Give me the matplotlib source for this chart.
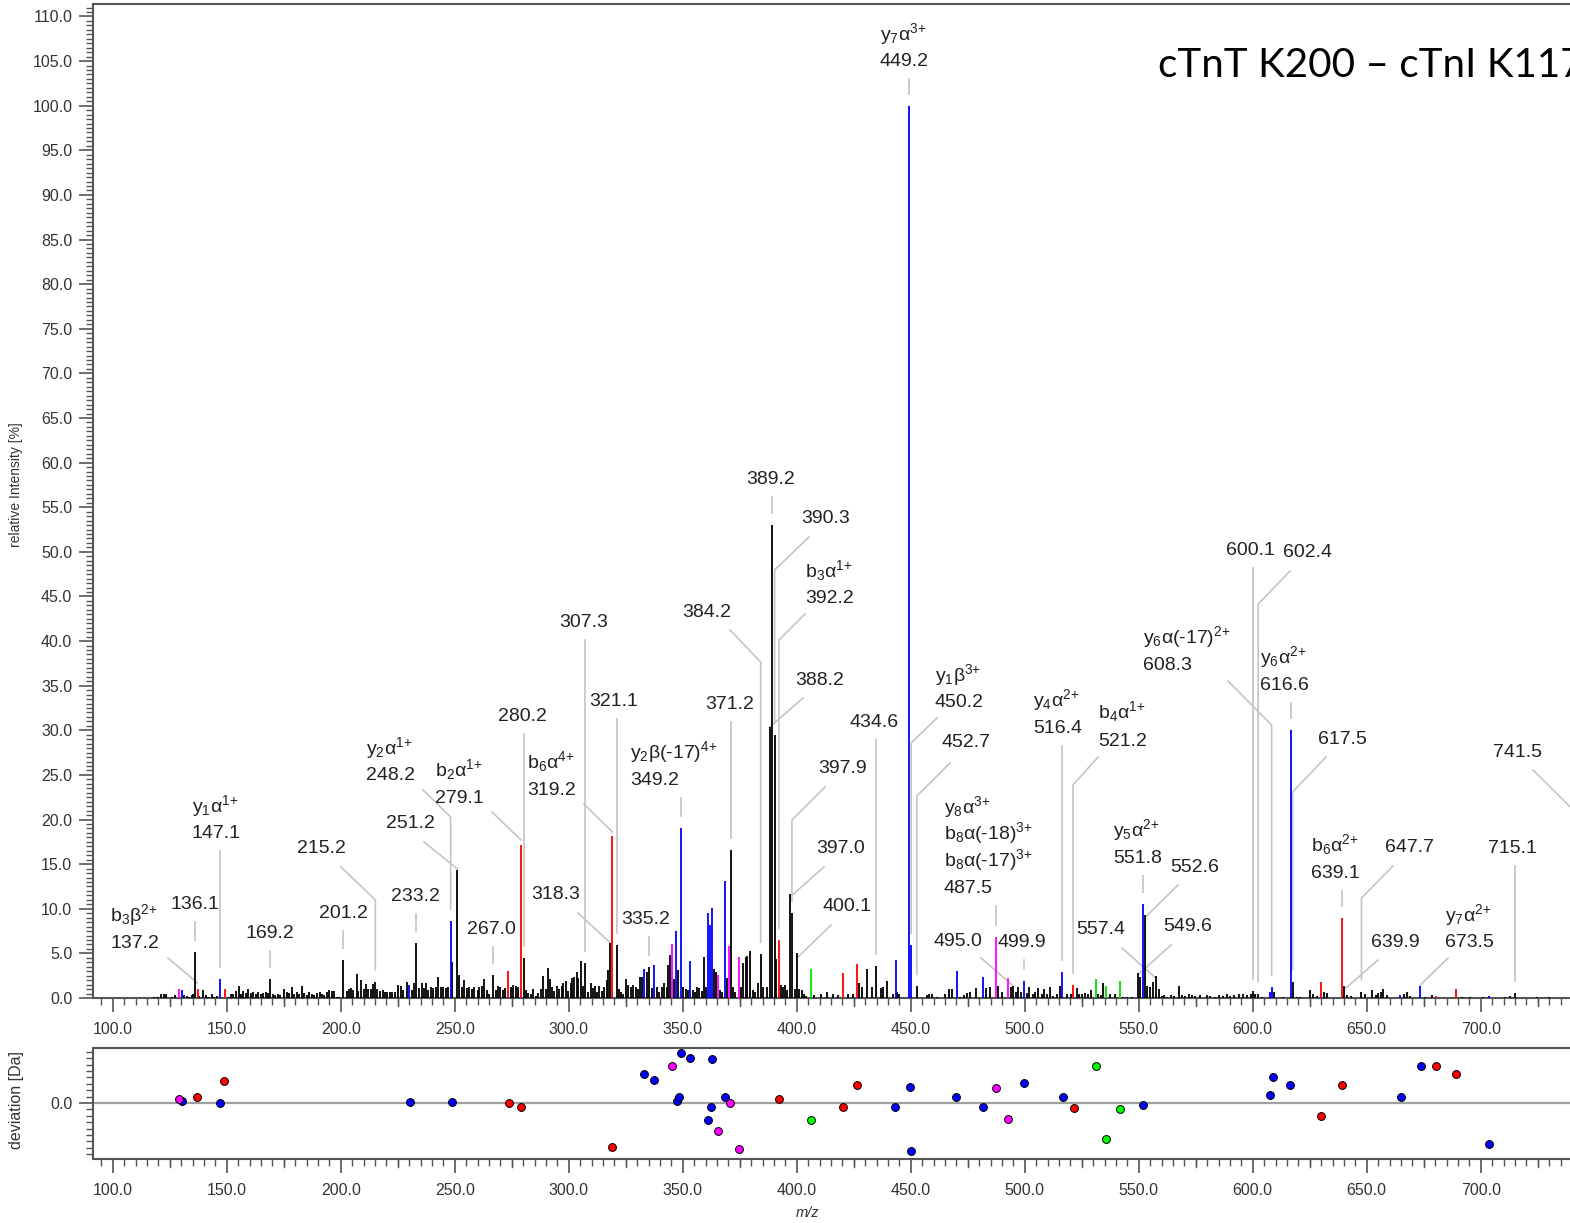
import matplotlib
matplotlib.use("Agg")
import matplotlib.pyplot as plt
from matplotlib.ticker import MultipleLocator, FixedLocator, FormatStrFormatter, FuncFormatter
from matplotlib.transforms import blended_transform_factory

plt.rcParams['font.family'] = ['Liberation Sans', 'DejaVu Sans']
plt.rcParams['mathtext.fontset'] = 'custom'
plt.rcParams['mathtext.rm'] = 'Liberation Sans'
plt.rcParams['mathtext.it'] = 'Liberation Sans:italic'
plt.rcParams['mathtext.default'] = 'regular'

# ---------------- data ----------------
title = "cTnT K200 \u2013 cTnI K117"

# unannotated background peaks (black)
noise_mz = [118.3, 119.3, 120.0, 121.0, 122.3, 123.2, 125.9, 127.2, 131.4, 132.5, 133.6, 134.7, 135.4,
            138.0, 139.5, 140.7, 142.0, 143.4, 144.5, 145.9, 150.7, 151.8, 152.9, 154.0, 155.3, 156.3,
            157.3, 158.5, 159.5, 160.7, 161.7, 162.7, 163.9, 164.9, 166.1, 167.1, 168.1, 170.2, 171.2,
            172.4, 173.4, 175.3, 176.3, 177.4, 178.5, 179.5, 180.7, 181.9, 183.1, 184.1, 185.1, 186.3,
            187.3, 188.5, 189.5, 190.7, 191.7, 192.8, 193.9, 195.0, 196.1, 197.2, 198.3, 199.4, 202.6,
            203.7, 204.4, 205.6, 207.0, 207.8, 208.8, 210.0, 211.0, 212.1, 213.2, 214.3, 216.1, 217.3,
            218.4, 219.5, 220.5, 221.6, 222.7, 223.7, 225.3, 226.3, 227.5, 229.0, 231.2, 232.2, 234.4,
            235.5, 236.6, 237.4, 238.5, 239.5, 240.5, 241.7, 242.8, 244.0, 245.0, 246.1, 247.2, 248.6,
            251.9, 253.1, 254.1, 255.3, 256.4, 257.5, 258.6, 260.0, 260.8, 261.9, 262.9, 264.0, 265.2,
            268.0, 269.2, 269.9, 271.1, 272.1, 274.6, 275.7, 276.8, 277.9,
            281.3, 282.3, 283.3, 284.5, 285.7, 286.7, 287.7, 288.9, 289.9, 290.9, 291.8, 292.8, 293.7,
            294.7, 295.7, 296.9, 297.6, 298.8, 299.8, 300.9, 301.6, 302.5, 303.5, 304.2, 305.2, 306.1,
            308.6, 309.6, 310.5, 311.5, 312.6, 313.4, 314.6, 315.6, 316.6, 317.4, 322.1, 322.9, 324.0,
            325.1, 326.2, 327.2, 328.3, 329.4, 330.2, 331.3, 332.3, 334.2, 336.4, 338.6, 339.6, 340.8,
            341.8, 342.9, 343.7, 344.6, 346.2, 348.1, 350.3, 351.3, 352.5, 354.4, 355.4, 356.1, 357.1,
            358.3, 359.5, 360.2, 363.7, 364.6, 366.4, 367.4, 369.3, 371.9, 373.0, 375.6, 376.6, 377.6,
            378.3, 379.5, 380.7, 381.7, 382.9, 385.4, 386.8, 391.0, 393.0, 393.8, 394.9, 395.9, 399.3,
            401.2, 402.2, 403.2, 404.1, 407.6, 410.5, 413.4, 416.0, 418.2, 422.6, 424.5, 427.5, 428.5,
            430.7, 432.9, 436.8, 438.0, 439.5, 442.1, 444.1, 444.8, 457.0, 458.0, 459.2, 461.7, 465.0,
            466.8, 468.0, 471.6, 473.4, 474.8, 476.0, 478.6, 483.0, 484.8, 488.4, 490.2, 494.0, 496.0,
            497.1, 498.2, 500.9, 502.0, 503.5, 504.5, 505.7, 507.4, 508.6, 509.6, 511.1, 512.6, 514.0,
            515.5, 518.4, 520.3, 522.8, 523.8, 525.0, 526.5, 527.9, 529.1, 532.3, 533.3, 534.2, 537.4,
            539.6, 543.0, 544.7, 546.9, 550.6, 553.5, 555.0, 556.1, 558.8, 560.1, 561.1, 562.6, 564.0,
            565.5, 567.8, 568.9, 570.3, 572.2, 573.2, 574.7, 576.9, 579.8, 581.3, 583.5, 585.4, 586.8,
            588.6, 590.0, 591.8, 594.1, 595.9, 597.4, 599.1, 601.0, 603.9, 609.3, 613.4, 619.3, 620.8,
            625.1, 626.6, 628.1, 631.3, 632.7, 641.5, 643.0, 649.3, 652.2, 654.1, 655.1, 656.3, 657.3,
            658.8, 666.4, 667.5, 669.0, 675.6, 678.5, 691.7, 695.3, 701.2, 710.7, 712.9, 724.5, 730.0]
noise_int = [0.1, 0.15, 0.15, 0.4, 0.45, 0.45, 0.1, 0.3, 0.35, 0.2, 0.15, 0.35, 0.4,
             0.2, 0.9, 0.35, 0.15, 0.45, 0.15, 0.2, 0.15, 0.4, 0.5, 0.8, 1.35, 0.4,
             0.8, 0.6, 1.0, 0.6, 0.7, 0.5, 0.7, 0.45, 0.6, 0.7, 0.6, 0.45, 0.35,
             0.5, 0.35, 1.0, 0.7, 0.6, 1.2, 0.5, 0.7, 0.45, 1.35, 0.6, 0.35, 0.7,
             0.45, 0.35, 0.6, 0.7, 0.5, 0.35, 0.7, 0.9, 0.8, 0.8, 0.15, 0.1, 0.8,
             1.0, 1.1, 0.9, 2.7, 0.8, 2.0, 1.0, 1.6, 1.0, 1.0, 1.55, 1.0, 0.8,
             0.9, 0.7, 0.7, 0.7, 0.7, 0.7, 1.45, 1.35, 0.9, 1.8, 0.9, 1.7, 1.1,
             1.7, 1.1, 1.7, 0.9, 1.2, 1.1, 1.2, 2.4, 1.2, 1.2, 1.1, 1.2, 4.0,
             2.6, 1.2, 2.0, 1.1, 1.2, 1.0, 1.2, 0.9, 1.2, 1.35, 2.1, 0.9, 0.5,
             0.9, 1.35, 1.2, 0.9, 1.1, 1.2, 1.45, 1.35, 1.2,
             0.9, 0.6, 0.45, 1.0, 0.2, 0.6, 1.0, 2.5, 1.0, 3.4, 2.1, 1.2, 0.8,
             1.35, 1.0, 1.35, 1.65, 1.95, 0.8, 1.65, 2.2, 2.4, 2.95, 2.2, 4.1, 1.35,
             0.7, 1.65, 1.1, 1.35, 0.7, 1.35, 0.8, 1.25, 2.0, 3.15, 1.0, 0.7, 0.45,
             2.1, 1.45, 1.2, 1.45, 1.2, 1.0, 2.3, 2.3, 2.95, 1.1, 1.2, 0.7, 1.2,
             1.7, 1.2, 3.7, 4.8, 2.1, 3.15, 1.2, 1.0, 0.9, 0.9, 0.7, 1.2, 1.1,
             0.8, 4.55, 1.25, 3.2, 2.95, 0.9, 0.7, 2.2, 1.2, 0.7, 1.2, 3.95, 4.6,
             4.7, 5.3, 0.9, 0.7, 1.7, 1.2, 1.2, 4.4, 1.45, 1.2, 1.45, 0.9, 1.0,
             1.0, 0.9, 0.45, 0.2, 0.35, 0.45, 0.7, 0.45, 0.35, 0.45, 0.45, 1.65, 1.2,
             3.3, 1.2, 1.1, 1.2, 1.9, 0.45, 0.7, 0.5, 0.35, 0.45, 0.5, 0.1, 0.45,
             1.0, 1.0, 0.15, 0.35, 0.6, 0.7, 1.1, 1.1, 1.2, 1.35, 0.7, 1.2, 0.7,
             1.2, 0.7, 0.6, 1.2, 0.45, 0.7, 1.1, 0.45, 1.0, 0.45, 1.2, 0.2, 0.45,
             1.35, 0.5, 0.45, 1.1, 0.45, 0.45, 0.6, 0.45, 0.9, 0.5, 0.35, 1.65, 0.45,
             0.45, 0.15, 0.15, 0.15, 2.3, 1.35, 1.2, 1.8, 1.0, 0.2, 0.35, 0.15, 0.35,
             0.2, 1.35, 0.35, 0.2, 0.45, 0.35, 0.2, 0.35, 0.35, 0.2, 0.15, 0.35, 0.2,
             0.45, 0.2, 0.35, 0.45, 0.45, 0.35, 0.5, 0.5, 0.15, 0.7, 0.15, 0.15, 0.1,
             0.9, 0.5, 0.2, 0.7, 0.6, 0.35, 0.2, 0.45, 0.9, 0.35, 0.6, 0.7, 1.0,
             0.35, 0.5, 0.7, 0.2, 0.15, 0.35, 0.15, 0.15, 0.15, 0.15, 0.2, 0.15, 0.15]

# annotated peaks without ion assignment (black)
black_mz = [136.1, 169.2, 201.2, 215.2, 233.2, 251.2, 267.0, 280.2, 307.3, 318.3, 321.1, 335.2, 371.2,
            384.2, 388.2, 389.2, 390.3, 397.0, 397.9, 400.1, 434.6, 452.7, 495.0, 549.6, 552.6, 557.4,
            600.1, 602.4, 617.5, 639.9, 647.7, 715.1, 741.5]
black_int = [5.2, 2.1, 4.3, 1.8, 6.2, 14.4, 2.6, 4.5, 3.9, 6.2, 5.9, 3.5, 16.6,
             4.9, 30.4, 53.0, 29.5, 11.7, 9.5, 5.0, 3.6, 1.3, 1.4, 2.8, 9.3, 2.5,
             0.8, 0.5, 1.8, 1.35, 0.7, 0.55, 1.0]

blue_mz = [130.3, 147.1, 230.1, 248.2, 333.2, 337.4, 347.1, 349.2, 353.2, 361.1, 362.0, 362.7, 368.6,
           443.5, 449.2, 450.2, 470.2, 481.8, 499.9, 516.4, 551.8, 607.6, 608.3, 616.6, 664.8, 673.5, 703.8]
blue_int = [0.9, 2.1, 1.45, 8.6, 3.2, 3.7, 7.55, 19.1, 4.15, 9.55, 8.2, 10.05, 13.1,
            4.3, 100.0, 5.9, 3.0, 2.4, 1.95, 2.9, 10.5, 0.7, 1.2, 30.0, 0.35, 1.3, 0.2]

red_mz = [137.2, 149.4, 273.4, 279.1, 319.2, 392.2, 420.2, 426.3, 521.2, 629.8, 639.1, 680.4, 689.2]
red_int = [1.0, 1.0, 3.0, 17.2, 18.2, 6.5, 2.85, 3.8, 1.45, 1.8, 9.0, 0.2, 1.0]

magenta_mz = [128.9, 345.3, 365.3, 370.2, 374.5, 487.5, 492.8]
magenta_int = [1.0, 6.1, 2.6, 5.8, 4.55, 6.8, 2.2]

green_mz = [406.3, 531.2, 535.7, 541.6]
green_int = [3.3, 2.1, 1.35, 1.95]

# ion names of annotated peaks
ion_mz = [137.2, 147.1, 248.2, 279.1, 319.2, 349.2, 392.2, 449.2, 450.2, 487.5, 516.4, 521.2,
          551.8, 608.3, 616.6, 639.1, 673.5]
ion_names = [["b$_3$\u03b2$^{2{+}}$"], ["y$_1$\u03b1$^{1{+}}$"], ["y$_2$\u03b1$^{1{+}}$"], ["b$_2$\u03b1$^{1{+}}$"],
             ["b$_6$\u03b1$^{4{+}}$"], ["y$_2$\u03b2(-17)$^{4{+}}$"], ["b$_3$\u03b1$^{1{+}}$"], ["y$_7$\u03b1$^{3{+}}$"],
             ["y$_1$\u03b2$^{3{+}}$"],
             ["y$_8$\u03b1$^{3{+}}$", "b$_8$\u03b1(-18)$^{3{+}}$", "b$_8$\u03b1(-17)$^{3{+}}$"],
             ["y$_4$\u03b1$^{2{+}}$"], ["b$_4$\u03b1$^{1{+}}$"], ["y$_5$\u03b1$^{2{+}}$"],
             ["y$_6$\u03b1(-17)$^{2{+}}$"], ["y$_6$\u03b1$^{2{+}}$"], ["b$_6$\u03b1$^{2{+}}$"], ["y$_7$\u03b1$^{2{+}}$"]]

# mass deviation of matched fragments
dev_blue_mz = [130.2, 147.2, 230.3, 248.6, 333.2, 337.5, 347.3, 348.4, 349.1, 353.3, 361.2, 362.5, 362.9,
               368.6, 443.3, 449.5, 450.1, 470.0, 481.9, 499.6, 516.6, 552.0, 607.5, 608.8, 616.5,
               664.9, 673.9, 703.8]
dev_blue = [0.006, -0.001, 0.002, 0.002, 0.090, 0.072, 0.006, 0.020, 0.155, 0.142, -0.053, -0.011, 0.137,
            0.020, -0.011, 0.051, -0.149, 0.020, -0.011, 0.064, 0.020, -0.005, 0.025, 0.081, 0.055,
            0.020, 0.116, -0.128]
dev_red_mz = [136.9, 149.0, 273.7, 279.0, 319.1, 392.3, 420.3, 426.5, 521.5, 630.0, 639.0, 680.3, 689.2]
dev_red = [0.020, 0.069, 0.000, -0.011, -0.137, 0.0115, -0.011, 0.055, -0.0145, -0.041, 0.055, 0.116, 0.090]
dev_mag_mz = [128.9, 345.5, 365.4, 370.6, 374.6, 487.5, 492.8]
dev_mag = [0.0115, 0.116, -0.0875, -0.001, -0.145, 0.046, -0.049]
dev_green_mz = [406.4, 531.2, 535.6, 541.8]
dev_green = [-0.053, 0.116, -0.1135, -0.019]

# ---------------- layout ----------------
W, H = 1570, 1223
BLUE, RED, MAG, GRN = '#0000ff', '#ff0000', '#ff00ff', '#00e000'
TXT = '#222222'
CONN = '#c4c4c4'

fig = plt.figure(figsize=(W / 100, H / 100), dpi=100)
XL = (91.4, 761.0)
axL, axR = 93.1, 1619.8

def frac(px0, py_top, px1, py_bot):
    return [px0 / W, 1 - py_bot / H, (px1 - px0) / W, (py_bot - py_top) / H]

ax = fig.add_axes(frac(axL, 4, axR, 998))
ax.set_xlim(*XL)
ax.set_ylim(0, 111.4)
ax2 = fig.add_axes(frac(axL, 1048, axR, 1159))
ax2.set_xlim(*XL)
ax2.set_ylim(-0.175, 0.172)

# pixel helpers for annotation placement
def dx(px):
    return XL[0] + (px - axL) * (XL[1] - XL[0]) / (axR - axL)

def dy(py):
    return (998 - py) * 111.4 / 994.0

# ---------------- spectrum ----------------
lw = 1.3
ax.vlines(noise_mz, 0, noise_int, colors='black', lw=lw, zorder=3)
ax.vlines(black_mz, 0, black_int, colors='black', lw=lw, zorder=3)
ax.vlines(magenta_mz, 0, magenta_int, colors=MAG, lw=lw, zorder=4)
ax.vlines(green_mz, 0, green_int, colors=GRN, lw=lw, zorder=4)
ax.vlines(red_mz, 0, red_int, colors=RED, lw=lw, zorder=4)
ax.vlines(blue_mz, 0, blue_int, colors=BLUE, lw=lw, zorder=4)

peak_int = {}
for m, i in list(zip(black_mz, black_int)) + list(zip(blue_mz, blue_int)) + \
        list(zip(red_mz, red_int)) + list(zip(magenta_mz, magenta_int)) + list(zip(green_mz, green_int)):
    peak_int[m] = i
names = dict(zip(ion_mz, ion_names))

# label layout: mz -> (x_px, [line centre y px], connector)
# connector: None = straight down; (sx, sy, knee_py) = slanted then down
layout = {
    136.1: (195, [903], None), 137.2: (110, [915, 942], (168, 958, 983)),
    147.1: (192, [806, 832], None), 169.2: (270, [932], None), 201.2: (343, [912], None),
    215.2: (321, [847], (341, 867, 900)), 233.2: (415, [895], None),
    248.2: (366, [748, 774], (423, 790, 817)), 251.2: (410, [822], (424, 842, 869)),
    267.0: (491, [928], None), 279.1: (435, [770, 797], (492, 812, 840)),
    280.2: (522, [715], None), 307.3: (584, [621], None),
    319.2: (527, [762, 789], (584, 804, 832)), 318.3: (556, [893], (578, 913, 943)),
    321.1: (614, [700], None), 335.2: (646, [918], None), 349.2: (630, [752, 779], None),
    371.2: (730, [703], None), 384.2: (707, [611], (730, 630, 662)), 389.2: (771, [478], None),
    390.3: (826, [517], (809, 537, 570)), 392.2: (805, [571, 597], (805, 614, 640)),
    388.2: (820, [679], (803, 698, 727)), 397.9: (843, [767], (825, 787, 820)),
    397.0: (841, [847], (824, 867, 897)), 400.1: (847, [905], (831, 925, 958)),
    434.6: (874, [721], None), 449.2: (880, [34, 60], None),
    450.2: (935, [675, 701], (937, 718, 743)), 452.7: (966, [741], (950, 763, 796)),
    487.5: (944, [807, 833, 860, 887], None), 495.0: (958, [940], (981, 958, 986)),
    499.9: (1022, [941], None), 516.4: (1033, [700, 727], None),
    521.2: (1098, [712, 740], (1098, 757, 785)), 551.8: (1113, [830, 857], None),
    552.6: (1195, [866], (1178, 885, 918)), 557.4: (1101, [928], (1122, 948, 978)),
    549.6: (1188, [925], (1171, 945, 975)), 600.1: (1250, [549], None),
    602.4: (1308, [551], (1290, 571, 604)), 608.3: (1143, [637, 664], (1228, 681, 725)),
    616.6: (1260, [657, 684], None), 617.5: (1342, [738], (1326, 757, 792)),
    639.1: (1311, [845, 872], None), 647.7: (1410, [846], (1393, 866, 898)),
    639.9: (1395, [941], (1378, 960, 990)), 673.5: (1445, [915, 941], (1448, 958, 985)),
    715.1: (1512, [847], None), 741.5: (1518, [751], (1533, 770, 812)),
}

gap = dy(998 - 12)
for mz, (xp, ys, conn) in layout.items():
    top = peak_int[mz]
    lines = names.get(mz, []) + ["%.1f" % mz]
    multi = len(lines) > 1
    for txt, yc in zip(lines, ys):
        ax.text(dx(xp), dy(yc + 6), txt, ha='left' if multi else 'center', va='baseline',
                fontsize=14, color=TXT, zorder=6)
    end = top + gap
    if conn is None:
        ax.plot([mz, mz], [dy(ys[-1] + 19), end], color=CONN, lw=1.2, zorder=1)
    else:
        sx, sy, ky = conn
        kI = dy(ky)
        if kI > end:
            ax.plot([dx(sx), mz, mz], [dy(sy), kI, end], color=CONN, lw=1.2, zorder=1)
        else:
            ax.plot([dx(sx), mz], [dy(sy), kI], color=CONN, lw=1.2, zorder=1)

# ---------------- deviation panel ----------------
ax2.axhline(0, color='#a0a0a0', lw=1.6, zorder=1)
for xs, ys_, c in [(dev_blue_mz, dev_blue, BLUE), (dev_red_mz, dev_red, RED),
                   (dev_mag_mz, dev_mag, MAG), (dev_green_mz, dev_green, '#00ff00')]:
    ax2.scatter(xs, ys_, s=32, c=c, edgecolors='black', linewidths=0.7, zorder=3)

# ---------------- axes styling ----------------
SP = '#555555'
xfmt = FuncFormatter(lambda v, p: "%.1f" % v if v <= 720 else "")
for a in (ax, ax2):
    for s in a.spines.values():
        s.set_color(SP)
        s.set_linewidth(1.5)
    a.xaxis.set_major_locator(MultipleLocator(50))
    a.xaxis.set_minor_locator(MultipleLocator(5))
    a.xaxis.set_major_formatter(xfmt)
    a.tick_params(axis='both', which='major', direction='out', length=10, width=1.2,
                  colors=SP, labelcolor='#333333', labelsize=11.5)
    a.tick_params(axis='both', which='minor', direction='out', length=5, width=1.0, colors=SP)
    a.tick_params(axis='x', which='major', pad=7)
    a.tick_params(axis='y', which='major', pad=5)
    a.set_facecolor('white')
    # medium ticks every 25
    tr = blended_transform_factory(a.transData, a.transAxes)
    hpx = a.get_position().height * H
    for m in range(125, 760, 50):
        a.plot([m, m], [0, -7.5 / hpx], transform=tr, color=SP, lw=1.0, clip_on=False)

ax.yaxis.set_major_locator(MultipleLocator(5))
ax.yaxis.set_minor_locator(MultipleLocator(0.5))
ax.yaxis.set_major_formatter(FormatStrFormatter('%.1f'))
ax2.yaxis.set_major_locator(FixedLocator([0.0]))
ax2.yaxis.set_minor_locator(MultipleLocator(0.02))
ax2.yaxis.set_major_formatter(FormatStrFormatter('%.1f'))

fig.text(16 / W, 1 - 485 / H, "relative Intensity [%]", rotation=90, ha='center', va='center',
         fontsize=10, color='#333333')
fig.text(17 / W, 1 - 1100 / H, "deviation [Da]", rotation=90, ha='center', va='center',
         fontsize=11.5, color='#333333')
fig.text(808 / W, 1 - 1213 / H, "m/z", ha='center', va='center', fontsize=10.5, style='italic',
         color='#333333')

# title (fit width of visible part; the reference crops it at the right edge)
r = fig.canvas.get_renderer()
probe = fig.text(0, 0, "cTnT K200 \u2013 cTnI K11", fontsize=30, family=['Lato', 'DejaVu Sans'])
wpx = probe.get_window_extent(renderer=r).width
probe.remove()
fs = 30 * 402.0 / wpx
fig.text(1158 / W, 1 - 77 / H, title, fontsize=fs, family=['Lato', 'DejaVu Sans'], color='black',
         ha='left', va='baseline')

fig.savefig("out.png", dpi=100)
